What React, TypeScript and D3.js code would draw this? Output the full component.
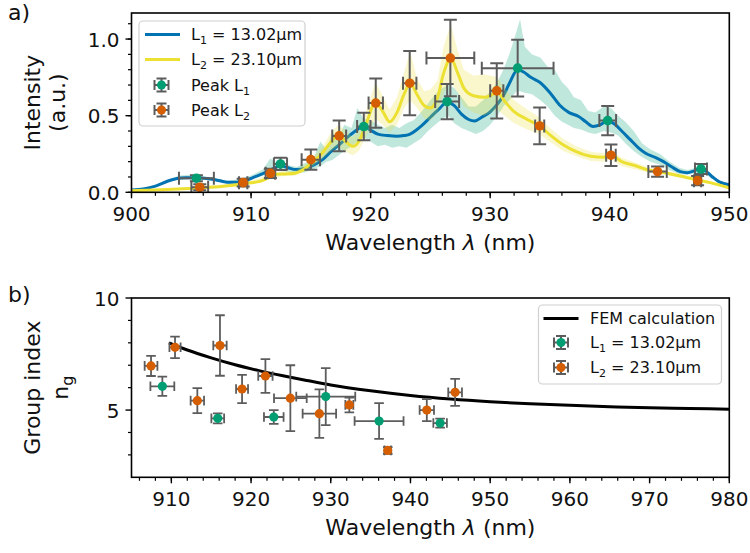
import React from 'react';
import * as d3 from 'd3';

const W = 750;
const H = 553;
const FONT = '"DejaVu Sans", "Liberation Sans", sans-serif';

// Palette
const BLUE = '#0173b2';
const YELLOW = '#ece133';
const GREEN = '#029e73';
const ORANGE = '#d55e00';
const ERR = '#5c5c5c';

// Spectrum of the L1 device: [wavelength nm, intensity]
const L1_SPECTRUM: [number, number][] = [
  [900, 0.015], [901, 0.022], [902, 0.04], [903, 0.072], [903.8, 0.09], [904.5, 0.095],
  [905.4, 0.095], [906.3, 0.09], [907, 0.082], [908, 0.066], [908.8, 0.065], [909.5, 0.075],
  [910.3, 0.1], [911.2, 0.13], [912, 0.16], [912.5, 0.175], [913.1, 0.16], [913.8, 0.148],
  [914.5, 0.155], [915.3, 0.18], [916, 0.215], [916.6, 0.26], [917.5, 0.32], [918.3, 0.375],
  [918.9, 0.41], [919.4, 0.43], [920, 0.405], [920.6, 0.38], [921.4, 0.37], [922.2, 0.365],
  [922.8, 0.37], [923.3, 0.38], [923.8, 0.405], [924.2, 0.43], [925, 0.49], [925.8, 0.55],
  [926.4, 0.59], [927, 0.565], [927.6, 0.51], [928.2, 0.475], [928.7, 0.465], [929.3, 0.49],
  [930, 0.525], [930.6, 0.575], [931.1, 0.63], [931.6, 0.71], [932.3, 0.8], [932.8, 0.785],
  [933.4, 0.75], [934.2, 0.715], [935, 0.65], [935.8, 0.57], [936.6, 0.52], [937.4, 0.495],
  [938, 0.46], [938.6, 0.43], [939.2, 0.44], [939.8, 0.465], [940.4, 0.445], [941, 0.4],
  [941.7, 0.345], [942.4, 0.29], [943, 0.255], [943.8, 0.228], [944.5, 0.2], [945.2, 0.165],
  [945.9, 0.135], [946.5, 0.128], [947, 0.138], [947.6, 0.155], [948.1, 0.135], [948.6, 0.1],
  [949.2, 0.066], [950, 0.05],
];

// Spectrum of the L2 device: [wavelength nm, intensity]
const L2_SPECTRUM: [number, number][] = [
  [900, 0.01], [902, 0.015], [904, 0.022], [906, 0.03], [907.5, 0.038], [908.5, 0.046],
  [909.3, 0.055], [910.3, 0.065], [911, 0.078], [911.6, 0.1], [912.1, 0.118], [912.9, 0.12],
  [913.7, 0.125], [914.5, 0.155], [915.2, 0.2], [916, 0.26], [916.7, 0.33], [917.3, 0.37],
  [917.8, 0.34], [918.5, 0.3], [919, 0.33], [919.6, 0.44], [920.4, 0.585], [921, 0.53],
  [921.6, 0.46], [922.2, 0.52], [922.8, 0.64], [923.3, 0.71], [923.9, 0.635], [924.5, 0.565],
  [925, 0.55], [925.6, 0.62], [926.1, 0.775], [926.7, 0.875], [927.3, 0.775], [927.8, 0.68],
  [928.6, 0.63], [929.5, 0.62], [930.1, 0.635], [930.6, 0.655], [931.2, 0.595], [932, 0.527],
  [933.1, 0.475], [934.1, 0.435], [935, 0.375], [936.1, 0.31], [937.2, 0.265], [938.4, 0.235],
  [939.5, 0.228], [940.1, 0.244], [941, 0.2], [942.1, 0.175], [943.2, 0.146], [944, 0.135],
  [945.1, 0.12], [946.2, 0.102], [947.3, 0.08], [948.4, 0.063], [950, 0.028],
];

// Spread of the L1 spectrum: [wavelength nm, low, high]
const L1_BAND: [number, number, number][] = [
  [900, 0.012, 0.018], [902, 0.035, 0.045], [903, 0.065, 0.08], [904, 0.085, 0.11],
  [905, 0.085, 0.115], [906, 0.082, 0.105], [907, 0.074, 0.092], [908, 0.058, 0.075],
  [909, 0.062, 0.085], [910, 0.085, 0.11], [911, 0.11, 0.15], [911.6, 0.125, 0.22],
  [912.2, 0.14, 0.19], [913, 0.135, 0.18], [913.8, 0.13, 0.165], [914.5, 0.13, 0.19],
  [915.2, 0.15, 0.22], [915.8, 0.17, 0.33], [916.3, 0.2, 0.28], [916.8, 0.21, 0.39],
  [917.3, 0.24, 0.36], [917.8, 0.27, 0.44], [918.4, 0.3, 0.42], [918.9, 0.33, 0.55],
  [919.4, 0.36, 0.48], [920, 0.33, 0.47], [920.6, 0.3, 0.44], [921.2, 0.31, 0.42],
  [921.8, 0.29, 0.44], [922.4, 0.3, 0.42], [923, 0.29, 0.45], [923.6, 0.32, 0.47],
  [924.2, 0.35, 0.52], [924.8, 0.4, 0.58], [925.4, 0.44, 0.64], [926, 0.48, 0.68],
  [926.5, 0.5, 0.7], [927, 0.45, 0.68], [927.6, 0.42, 0.62], [928.2, 0.4, 0.56],
  [928.8, 0.38, 0.56], [929.4, 0.4, 0.6], [930, 0.44, 0.66], [930.6, 0.5, 0.72],
  [931.1, 0.56, 0.8], [931.6, 0.6, 0.9], [932.2, 0.66, 1.05], [932.5, 0.66, 1.13],
  [932.9, 0.65, 0.95], [933.5, 0.64, 0.9], [934.2, 0.6, 0.88], [934.8, 0.56, 0.82],
  [935.4, 0.5, 0.8], [936, 0.46, 0.72], [936.5, 0.44, 0.68], [937, 0.42, 0.62],
  [937.6, 0.41, 0.6], [938.2, 0.39, 0.53], [938.8, 0.38, 0.52], [939.5, 0.4, 0.56],
  [940.1, 0.39, 0.55], [940.7, 0.37, 0.5], [941.3, 0.32, 0.46], [942, 0.27, 0.4],
  [942.7, 0.23, 0.32], [943.4, 0.2, 0.28], [944.2, 0.18, 0.25], [945, 0.145, 0.2],
  [945.8, 0.12, 0.16], [946.5, 0.115, 0.145], [947.2, 0.125, 0.16], [947.8, 0.13, 0.17],
  [948.5, 0.09, 0.115], [949.2, 0.058, 0.075], [950, 0.045, 0.055],
];

// Spread of the L2 spectrum: [wavelength nm, low, high]
const L2_BAND: [number, number, number][] = [
  [900, 0.006, 0.014], [905, 0.025, 0.037], [908, 0.036, 0.052], [910, 0.055, 0.075],
  [911.5, 0.085, 0.115], [912.5, 0.105, 0.135], [913.7, 0.11, 0.14], [914.5, 0.135, 0.18],
  [915.2, 0.17, 0.23], [916, 0.22, 0.3], [916.7, 0.27, 0.39], [917.3, 0.3, 0.44],
  [917.8, 0.27, 0.41], [918.5, 0.24, 0.36], [919, 0.27, 0.4], [919.6, 0.36, 0.52],
  [920.4, 0.48, 0.72], [921, 0.44, 0.63], [921.6, 0.39, 0.54], [922.2, 0.44, 0.62],
  [922.8, 0.55, 0.78], [923.3, 0.6, 0.92], [923.9, 0.55, 0.74], [924.5, 0.48, 0.66],
  [925, 0.47, 0.67], [925.6, 0.52, 0.73], [926.1, 0.65, 0.95], [926.7, 0.72, 1.1],
  [927.3, 0.65, 0.92], [927.8, 0.56, 0.8], [928.6, 0.52, 0.76], [929.5, 0.5, 0.77],
  [930.1, 0.52, 0.76], [930.6, 0.54, 0.75], [931.2, 0.5, 0.68], [932, 0.45, 0.6],
  [933.1, 0.41, 0.54], [934.1, 0.38, 0.49], [935, 0.33, 0.42], [936.1, 0.27, 0.35],
  [937.2, 0.235, 0.3], [938.4, 0.205, 0.265], [939.5, 0.2, 0.255], [940.1, 0.215, 0.275],
  [941, 0.17, 0.225], [942.1, 0.15, 0.195], [943.2, 0.13, 0.163], [944, 0.12, 0.15],
  [945.1, 0.107, 0.133], [946.2, 0.09, 0.114], [947.3, 0.07, 0.09], [948.4, 0.054, 0.072],
  [950, 0.022, 0.034],
];

// Fitted peaks: [wavelength nm, intensity, wavelength error, intensity error]
const PEAKS_L1: [number, number, number, number][] = [
  [905.43, 0.092, 1.46, 0.02], [912.46, 0.185, 0.55, 0.04], [919.43, 0.429, 0.56, 0.09],
  [926.4, 0.592, 1.0, 0.115], [932.3, 0.81, 3.0, 0.185], [939.83, 0.468, 0.7, 0.095],
  [947.63, 0.152, 0.5, 0.033],
];
const PEAKS_L2: [number, number, number, number][] = [
  [905.71, 0.033, 0.7, 0.02], [909.34, 0.063, 0.35, 0.025], [911.62, 0.124, 0.4, 0.03],
  [915.0, 0.213, 0.77, 0.066], [917.37, 0.368, 0.58, 0.1], [920.43, 0.582, 0.6, 0.16],
  [923.27, 0.712, 0.56, 0.21], [926.67, 0.876, 2.0, 0.25], [930.55, 0.662, 0.55, 0.18],
  [934.14, 0.433, 0.38, 0.12], [940.1, 0.242, 0.4, 0.07], [944.0, 0.135, 0.77, 0.033],
  [947.35, 0.076, 0.3, 0.03],
];

// Group index from peak spacing: [wavelength nm, n_g, wavelength error, n_g error]
const NG_L1: [number, number, number, number][] = [
  [908.87, 6.06, 1.5, 0.43], [915.82, 4.63, 0.8, 0.22], [922.85, 4.69, 1.23, 0.31],
  [929.37, 5.6, 3.7, 1.27], [936.06, 4.51, 3.07, 0.8], [943.72, 4.42, 0.85, 0.2],
];
const NG_L2: [number, number, number, number][] = [
  [907.45, 6.97, 0.8, 0.45], [910.46, 7.8, 0.7, 0.48], [913.26, 5.42, 0.84, 0.56],
  [916.1, 7.88, 0.84, 1.35], [918.87, 5.94, 0.75, 0.63], [921.8, 6.52, 0.9, 0.75],
  [924.93, 5.53, 2.05, 1.47], [928.57, 4.84, 2.1, 1.08], [932.33, 5.23, 0.5, 0.33],
  [937.15, 3.2, 0.4, 0.15], [942.05, 5.0, 0.9, 0.49], [945.6, 5.79, 0.86, 0.6],
];

// FEM group index
const FEM_WL = [909.7, 912, 915, 918, 921, 924, 927, 930, 935, 940, 945, 950, 955, 960, 965, 970, 975, 980];
const FEM_NG = [8.0, 7.68, 7.33, 7.02, 6.76, 6.53, 6.32, 6.12, 5.86, 5.65, 5.49, 5.37, 5.28, 5.21, 5.15, 5.1, 5.07, 5.04];

// Axes
const TOP_X_TICKS = [900, 910, 920, 930, 940, 950];
const TOP_X_MINOR = d3.range(900, 950.01, 2);
const TOP_Y_TICKS = [0, 0.5, 1.0];
const TOP_Y_LABELS = ['0.0', '0.5', '1.0'];
const TOP_Y_MINOR = d3.range(0, 1.17, 0.1);
const BOT_X_TICKS = [910, 920, 930, 940, 950, 960, 970, 980];
const BOT_X_MINOR = d3.range(906, 980.01, 2);
const BOT_Y_TICKS = [5, 10];
const BOT_Y_LABELS = ['5', '10'];
const BOT_Y_MINOR = [3, 4, 6, 7, 8, 9];

const LEFT = 131.5;
const RIGHT = 729.3;
const TOP_T = 13;
const TOP_B = 192.3;
const BOT_T = 298;
const BOT_B = 477.3;

const xTop = d3.scaleLinear().domain([900, 950]).range([LEFT, RIGHT]);
const yTop = d3.scaleLinear().domain([0, 1.17]).range([TOP_B, TOP_T]);
const xBot = d3.scaleLinear().domain([905, 980]).range([LEFT, RIGHT]);
const yBot = d3.scaleLinear().domain([2, 10]).range([BOT_B, BOT_T]);

type Pt = [number, number, number, number];

function ErrorPoints({ data, x, y, color, cap, r, lw }: {
  data: Pt[]; x: d3.ScaleLinear<number, number>; y: d3.ScaleLinear<number, number>;
  color: string; cap: number; r: number; lw: number;
}) {
  return (
    <g>
      {data.map((d, i) => {
        const cx = x(d[0]);
        const cy = y(d[1]);
        const x0 = x(d[0] - d[2]);
        const x1 = x(d[0] + d[2]);
        const y0 = y(d[1] - d[3]);
        const y1 = y(d[1] + d[3]);
        return (
          <g key={i} stroke={ERR} strokeWidth={lw} fill="none">
            <line x1={cx} x2={cx} y1={y0} y2={y1} />
            <line x1={cx - cap} x2={cx + cap} y1={y0} y2={y0} />
            <line x1={cx - cap} x2={cx + cap} y1={y1} y2={y1} />
            <line x1={x0} x2={x1} y1={cy} y2={cy} />
            <line x1={x0} x2={x0} y1={cy - cap} y2={cy + cap} />
            <line x1={x1} x2={x1} y1={cy - cap} y2={cy + cap} />
            <circle cx={cx} cy={cy} r={r} fill={color} stroke="none" />
          </g>
        );
      })}
    </g>
  );
}

function Frame({ top, bottom }: { top: number; bottom: number }) {
  return (
    <rect x={LEFT} y={top} width={RIGHT - LEFT} height={bottom - top}
      fill="none" stroke="#000" strokeWidth={1.6} />
  );
}

function XAxis({ scale, bottom, ticks, labels, minor }: {
  scale: d3.ScaleLinear<number, number>; bottom: number; ticks: number[]; labels: string[]; minor: number[];
}) {
  return (
    <g>
      {minor.map((t, i) => (
        <line key={'m' + i} x1={scale(t)} x2={scale(t)} y1={bottom} y2={bottom + 3.5} stroke="#000" strokeWidth={1.2} />
      ))}
      {ticks.map((t, i) => (
        <g key={i}>
          <line x1={scale(t)} x2={scale(t)} y1={bottom} y2={bottom + 6} stroke="#000" strokeWidth={1.4} />
          <text x={scale(t)} y={bottom + 29} textAnchor="middle" fontSize={20} fontFamily={FONT} fill="#111">{labels[i]}</text>
        </g>
      ))}
    </g>
  );
}

function YAxis({ scale, ticks, labels, minor }: {
  scale: d3.ScaleLinear<number, number>; ticks: number[]; labels: string[]; minor: number[];
}) {
  return (
    <g>
      {minor.map((t, i) => (
        <line key={'m' + i} x1={LEFT - 3.5} x2={LEFT} y1={scale(t)} y2={scale(t)} stroke="#000" strokeWidth={1.2} />
      ))}
      {ticks.map((t, i) => (
        <g key={i}>
          <line x1={LEFT - 6} x2={LEFT} y1={scale(t)} y2={scale(t)} stroke="#000" strokeWidth={1.4} />
          <text x={LEFT - 12} y={scale(t) + 7.5} textAnchor="end" fontSize={20} fontFamily={FONT} fill="#111">{labels[i]}</text>
        </g>
      ))}
    </g>
  );
}

// Text with a lowered index, e.g. L₁, followed by an optional tail
function SubText({ x, y, base, sub, tail }: { x: number; y: number; base: string; sub: string; tail?: string }) {
  return (
    <text x={x} y={y} fontSize={16} fill="#111">
      {base}
      <tspan fontSize={11} dy={4}>{sub}</tspan>
      {tail ? <tspan fontSize={16} dy={-4}>{tail}</tspan> : null}
    </text>
  );
}

function LegendErr({ cx, cy, color }: { cx: number; cy: number; color: string }) {
  const c = 5;
  return (
    <g stroke={ERR} strokeWidth={2} fill="none">
      <line x1={cx} x2={cx} y1={cy - 6.5} y2={cy + 6.5} />
      <line x1={cx - c} x2={cx + c} y1={cy - 6.5} y2={cy - 6.5} />
      <line x1={cx - c} x2={cx + c} y1={cy + 6.5} y2={cy + 6.5} />
      <line x1={cx - 7} x2={cx + 7} y1={cy} y2={cy} />
      <line x1={cx - 7} x2={cx - 7} y1={cy - c} y2={cy + c} />
      <line x1={cx + 7} x2={cx + 7} y1={cy - c} y2={cy + c} />
      <circle cx={cx} cy={cy} r={4.5} fill={color} stroke="none" />
    </g>
  );
}

export default function App() {
  const lineTop = d3.line<[number, number]>().x(d => xTop(d[0])).y(d => yTop(d[1])).curve(d3.curveMonotoneX);
  const bandTop = d3.area<[number, number, number]>().x(d => xTop(d[0])).y0(d => yTop(d[1])).y1(d => yTop(d[2]));
  const femLine = d3.line<number>().x(d => xBot(d)).y((d, i) => yBot(FEM_NG[i])).curve(d3.curveMonotoneX);

  const topMidY = (TOP_T + TOP_B) / 2;
  const botMidY = (BOT_T + BOT_B) / 2;
  const midX = (LEFT + RIGHT) / 2;

  return (
    <svg width={W} height={H} viewBox={`0 0 ${W} ${H}`} style={{ position: 'absolute', left: 0, top: 0, background: '#fff' }}
      fontFamily={FONT}>
      <rect width={W} height={H} fill="#fff" />
      <defs>
        <clipPath id="clipTop"><rect x={LEFT} y={TOP_T} width={RIGHT - LEFT} height={TOP_B - TOP_T} /></clipPath>
        <clipPath id="clipBot"><rect x={LEFT} y={BOT_T} width={RIGHT - LEFT} height={BOT_B - BOT_T} /></clipPath>
      </defs>

      {/* Panel a: spectra */}
      <g clipPath="url(#clipTop)">
        <path d={bandTop(L1_BAND) ?? ''} fill={GREEN} fillOpacity={0.25} />
        <path d={lineTop(L1_SPECTRUM) ?? ''} fill="none" stroke={BLUE} strokeWidth={3} />
        <path d={bandTop(L2_BAND) ?? ''} fill={YELLOW} fillOpacity={0.25} />
        <path d={lineTop(L2_SPECTRUM) ?? ''} fill="none" stroke={YELLOW} strokeWidth={3} />
        <ErrorPoints data={PEAKS_L1} x={xTop} y={yTop} color={GREEN} cap={6.5} r={4.8} lw={2} />
        <ErrorPoints data={PEAKS_L2} x={xTop} y={yTop} color={ORANGE} cap={6.5} r={4.8} lw={2} />
      </g>
      <Frame top={TOP_T} bottom={TOP_B} />
      <XAxis scale={xTop} bottom={TOP_B} ticks={TOP_X_TICKS} labels={TOP_X_TICKS.map(String)} minor={TOP_X_MINOR} />
      <YAxis scale={yTop} ticks={TOP_Y_TICKS} labels={TOP_Y_LABELS} minor={TOP_Y_MINOR} />
      <text x={midX} y={TOP_B + 58} textAnchor="middle" fontSize={22} fill="#111">
        Wavelength <tspan fontStyle="italic">λ</tspan> (nm)
      </text>
      <g transform={`translate(40, ${topMidY}) rotate(-90)`}>
        <text textAnchor="middle" fontSize={22} fill="#111">Intensity</text>
      </g>
      <g transform={`translate(65, ${topMidY}) rotate(-90)`}>
        <text textAnchor="middle" fontSize={22} fill="#111">(a.u.)</text>
      </g>
      <text x={8} y={20} fontSize={22} fill="#111">a)</text>

      {/* Legend a */}
      <g>
        <rect x={139} y={21} width={166} height={105} rx={4} fill="#fff" fillOpacity={0.85} stroke="#d0d0d0" strokeWidth={1.2} />
        <line x1={145} x2={180} y1={34.5} y2={34.5} stroke={BLUE} strokeWidth={3} />
        <SubText x={191} y={40} base="L" sub="1" tail=" = 13.02µm" />
        <line x1={145} x2={180} y1={59.5} y2={59.5} stroke={YELLOW} strokeWidth={3} />
        <SubText x={191} y={65} base="L" sub="2" tail=" = 23.10µm" />
        <LegendErr cx={161.5} cy={85} color={GREEN} />
        <SubText x={191} y={90.5} base="Peak L" sub="1" />
        <LegendErr cx={161.5} cy={110} color={ORANGE} />
        <SubText x={191} y={115.5} base="Peak L" sub="2" />
      </g>

      {/* Panel b: group index */}
      <g clipPath="url(#clipBot)">
        <path d={femLine(FEM_WL) ?? ''} fill="none" stroke="#000" strokeWidth={3} />
        <ErrorPoints data={NG_L1} x={xBot} y={yBot} color={GREEN} cap={4.8} r={4.6} lw={1.8} />
        <ErrorPoints data={NG_L2} x={xBot} y={yBot} color={ORANGE} cap={4.8} r={4.6} lw={1.8} />
      </g>
      <Frame top={BOT_T} bottom={BOT_B} />
      <XAxis scale={xBot} bottom={BOT_B} ticks={BOT_X_TICKS} labels={BOT_X_TICKS.map(String)} minor={BOT_X_MINOR} />
      <YAxis scale={yBot} ticks={BOT_Y_TICKS} labels={BOT_Y_LABELS} minor={BOT_Y_MINOR} />
      <text x={midX} y={BOT_B + 58} textAnchor="middle" fontSize={22} fill="#111">
        Wavelength <tspan fontStyle="italic">λ</tspan> (nm)
      </text>
      <g transform={`translate(40, ${botMidY}) rotate(-90)`}>
        <text textAnchor="middle" fontSize={22} fill="#111">Group index</text>
      </g>
      <g transform={`translate(68, ${botMidY}) rotate(-90)`}>
        <text textAnchor="middle" fontSize={22} fill="#111">n<tspan fontSize={16} dy={5}>g</tspan></text>
      </g>
      <text x={8} y={302} fontSize={22} fill="#111">b)</text>

      {/* Legend b */}
      <g>
        <rect x={538.5} y={305} width={183} height={79} rx={4} fill="#fff" fillOpacity={0.85} stroke="#d0d0d0" strokeWidth={1.2} />
        <line x1={543.5} x2={578.5} y1={318.5} y2={318.5} stroke="#000" strokeWidth={3} />
        <text x={590} y={324} fontSize={16} fill="#111">FEM calculation</text>
        <LegendErr cx={561} cy={342.5} color={GREEN} />
        <SubText x={590} y={348} base="L" sub="1" tail=" = 13.02µm" />
        <LegendErr cx={561} cy={367.5} color={ORANGE} />
        <SubText x={590} y={373} base="L" sub="2" tail=" = 23.10µm" />
      </g>
    </svg>
  );
}
